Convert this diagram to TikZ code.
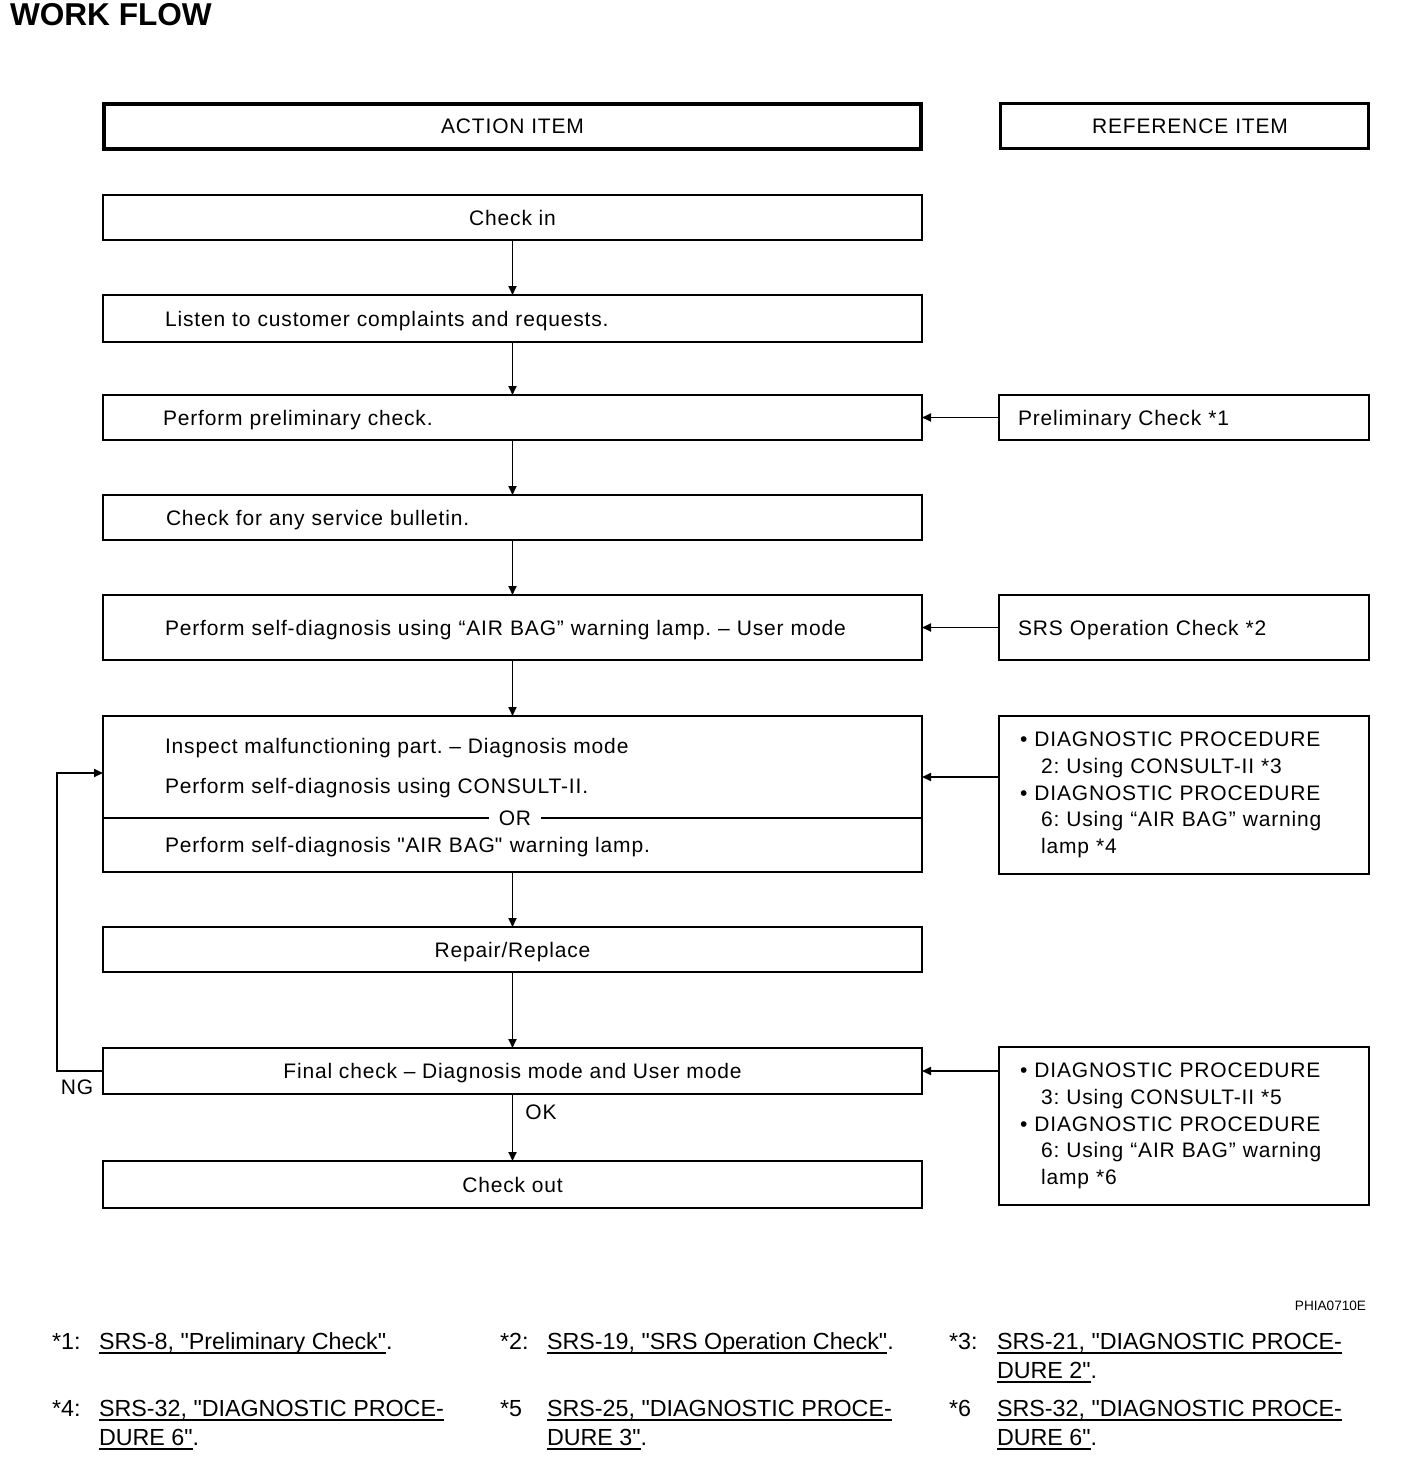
\documentclass[tikz,border=0pt]{standalone}
\usepackage{fontspec}
\setmainfont{Liberation Sans}[LetterSpace=4]
\newfontfamily\plainfont{Liberation Sans}
\newcommand{\myul}[1]{\leavevmode\setbox0\hbox{#1}\rlap{\rule[-4.8pt]{\wd0}{1.8pt}}\box0}
\newcommand{\sq}{{\plainfont"}\kern0.8pt}
\frenchspacing
\usetikzlibrary{arrows.meta,calc}
\begin{document}
\frenchspacing
\begin{tikzpicture}[x=1pt,y=-1pt,
  every node/.style={inner sep=0pt, outer sep=0pt, font=\frenchspacing\fontsize{21}{26.75}\selectfont},
  one/.style={text height=15pt, text depth=0pt},
  abox/.style={draw, line width=1.6pt, minimum width=819pt, minimum height=#1, one},
  lbox/.style={abox=#1, text width=819pt, align=left},
  rbox/.style={draw, line width=1.6pt, minimum width=370pt, minimum height=#1, text width=370pt, align=left},
  arr/.style={line width=1.8pt, -{Triangle[length=9pt,width=8pt]}},
  foot/.style={anchor=base west, font=\plainfont\frenchspacing\fontsize{23.3}{29}\selectfont}
]
\useasboundingbox (0,0) rectangle (1408,1480);

% title
\node[anchor=base west, font=\plainfont\bfseries\fontsize{31.6}{36}\selectfont] (title) at (10,26) {WORK FLOW};

% headers
\node[draw, line width=4pt, minimum width=817pt, minimum height=45pt, one] (hA) at (512.5,126) {ACTION ITEM};
\node[draw, line width=3pt, minimum width=368pt, minimum height=45pt, one, text width=368pt, align=center] (hR) at (1184,125.5) {\hspace*{12pt}REFERENCE ITEM};

% action boxes
\node[abox=45pt] (a1) at (512.5,217.5) {Check in};
\node[lbox=47pt] (a2) at (512.5,318.5) {\hspace*{62pt}Listen to customer complaints and requests.};
\node[lbox=45pt] (a3) at (512.5,417.5) {\hspace*{60pt}Perform preliminary check.};
\node[lbox=45pt] (a4) at (512.5,517.5) {\hspace*{63pt}Check for any service bulletin.};
\node[lbox=65pt] (a5) at (512.5,627.5) {\hspace*{62pt}Perform self-diagnosis using “AIR BAG” warning lamp. – User mode};
\node[abox=156pt] (a6) at (512.5,794) {};
\node[anchor=west, one] (a6t1) at (165,746) {Inspect malfunctioning part. – Diagnosis mode};
\node[anchor=west, one] (a6t2) at (165,786) {Perform self-diagnosis using CONSULT-II.};
\node[anchor=west, one] (a6t3) at (165,845) {Perform self-diagnosis \sq AIR BAG\sq\ warning lamp.};
\coordinate (orL) at (a6.west |- 0,818);
\coordinate (orR) at (a6.east |- 0,818);
\node[fill=white, inner xsep=10pt, inner ysep=2pt, one] (or) at (515,818) {OR};
\draw[line width=1.2pt] (orL) -- (or.west);
\draw[line width=1.2pt] (or.east) -- (orR);
\node[abox=45pt] (a7) at (512.5,949.5) {Repair/Replace};
\node[abox=46pt] (a8) at (512.5,1071) {Final check – Diagnosis mode and User mode};
\node[abox=47pt] (a9) at (512.5,1184.5) {Check out};

% reference boxes
\node[rbox=45pt, one] (r1) at (1184,417.5) {\hspace*{19pt}Preliminary Check *1};
\node[rbox=65pt, one] (r2) at (1184,627.5) {\hspace*{19pt}SRS Operation Check *2};
\node[rbox=158pt] (r3) at (1184,795) {\hspace*{21pt}• DIAGNOSTIC PROCEDURE\\\hspace*{42pt}2: Using CONSULT-II *3\\\hspace*{21pt}• DIAGNOSTIC PROCEDURE\\\hspace*{42pt}6: Using “AIR BAG” warning\\\hspace*{42pt}lamp *4};
\node[rbox=158pt] (r4) at (1184,1126) {\hspace*{21pt}• DIAGNOSTIC PROCEDURE\\\hspace*{42pt}3: Using CONSULT-II *5\\\hspace*{21pt}• DIAGNOSTIC PROCEDURE\\\hspace*{42pt}6: Using “AIR BAG” warning\\\hspace*{42pt}lamp *6};

% vertical flow
\draw[arr] (a1) -- (a2);
\draw[arr] (a2) -- (a3);
\draw[arr] (a3) -- (a4);
\draw[arr] (a4) -- (a5);
\draw[arr] (a5) -- (a6);
\draw[arr] (a6) -- (a7);
\draw[arr] (a7) -- (a8);
\draw[arr] (a8) -- (a9);

% reference arrows
\draw[arr] (r1.west) -- (r1.west -| a3.east);
\draw[arr] (r2.west) -- (r2.west -| a5.east);
\coordinate (r3a) at ([yshift=18pt]r3.west);
\draw[arr] (r3a) -- (r3a -| a6.east);
\draw[arr] (r4.west |- a8.east) -- (a8.east);

% NG loop
\coordinate (ngt) at ([yshift=21pt]a6.west);
\draw[arr] (a8.west) -- ++(-46,0) |- (ngt);
\node[one] (ng) at (77,1087) {NG};
\node[one] (ok) at (541,1112) {OK};

% code
\node[anchor=east, font=\plainfont\fontsize{13.6}{16}\selectfont] (code) at (1366,1306) {PHIA0710E};

% footnotes
\node[foot] (f1n) at (52,1349) {*1:};
\node[foot] (f1) at (99,1349) {\myul{SRS-8, "Preliminary Check"}.};
\node[foot] (f2n) at (500,1349) {*2:};
\node[foot] (f2) at (547,1349) {\myul{SRS-19, "SRS Operation Check"}.};
\node[foot] (f3n) at (949,1349) {*3:};
\node[foot] (f3) at (997,1349) {\myul{SRS-21, "DIAGNOSTIC PROCE-}};
\node[foot] (f3b) at (997,1378) {\myul{DURE 2"}.};
\node[foot] (f4n) at (52,1416) {*4:};
\node[foot] (f4) at (99,1416) {\myul{SRS-32, "DIAGNOSTIC PROCE-}};
\node[foot] (f4b) at (99,1445) {\myul{DURE 6"}.};
\node[foot] (f5n) at (500,1416) {*5};
\node[foot] (f5) at (547,1416) {\myul{SRS-25, "DIAGNOSTIC PROCE-}};
\node[foot] (f5b) at (547,1445) {\myul{DURE 3"}.};
\node[foot] (f6n) at (949,1416) {*6};
\node[foot] (f6) at (997,1416) {\myul{SRS-32, "DIAGNOSTIC PROCE-}};
\node[foot] (f6b) at (997,1445) {\myul{DURE 6"}.};
\end{tikzpicture}
\end{document}
